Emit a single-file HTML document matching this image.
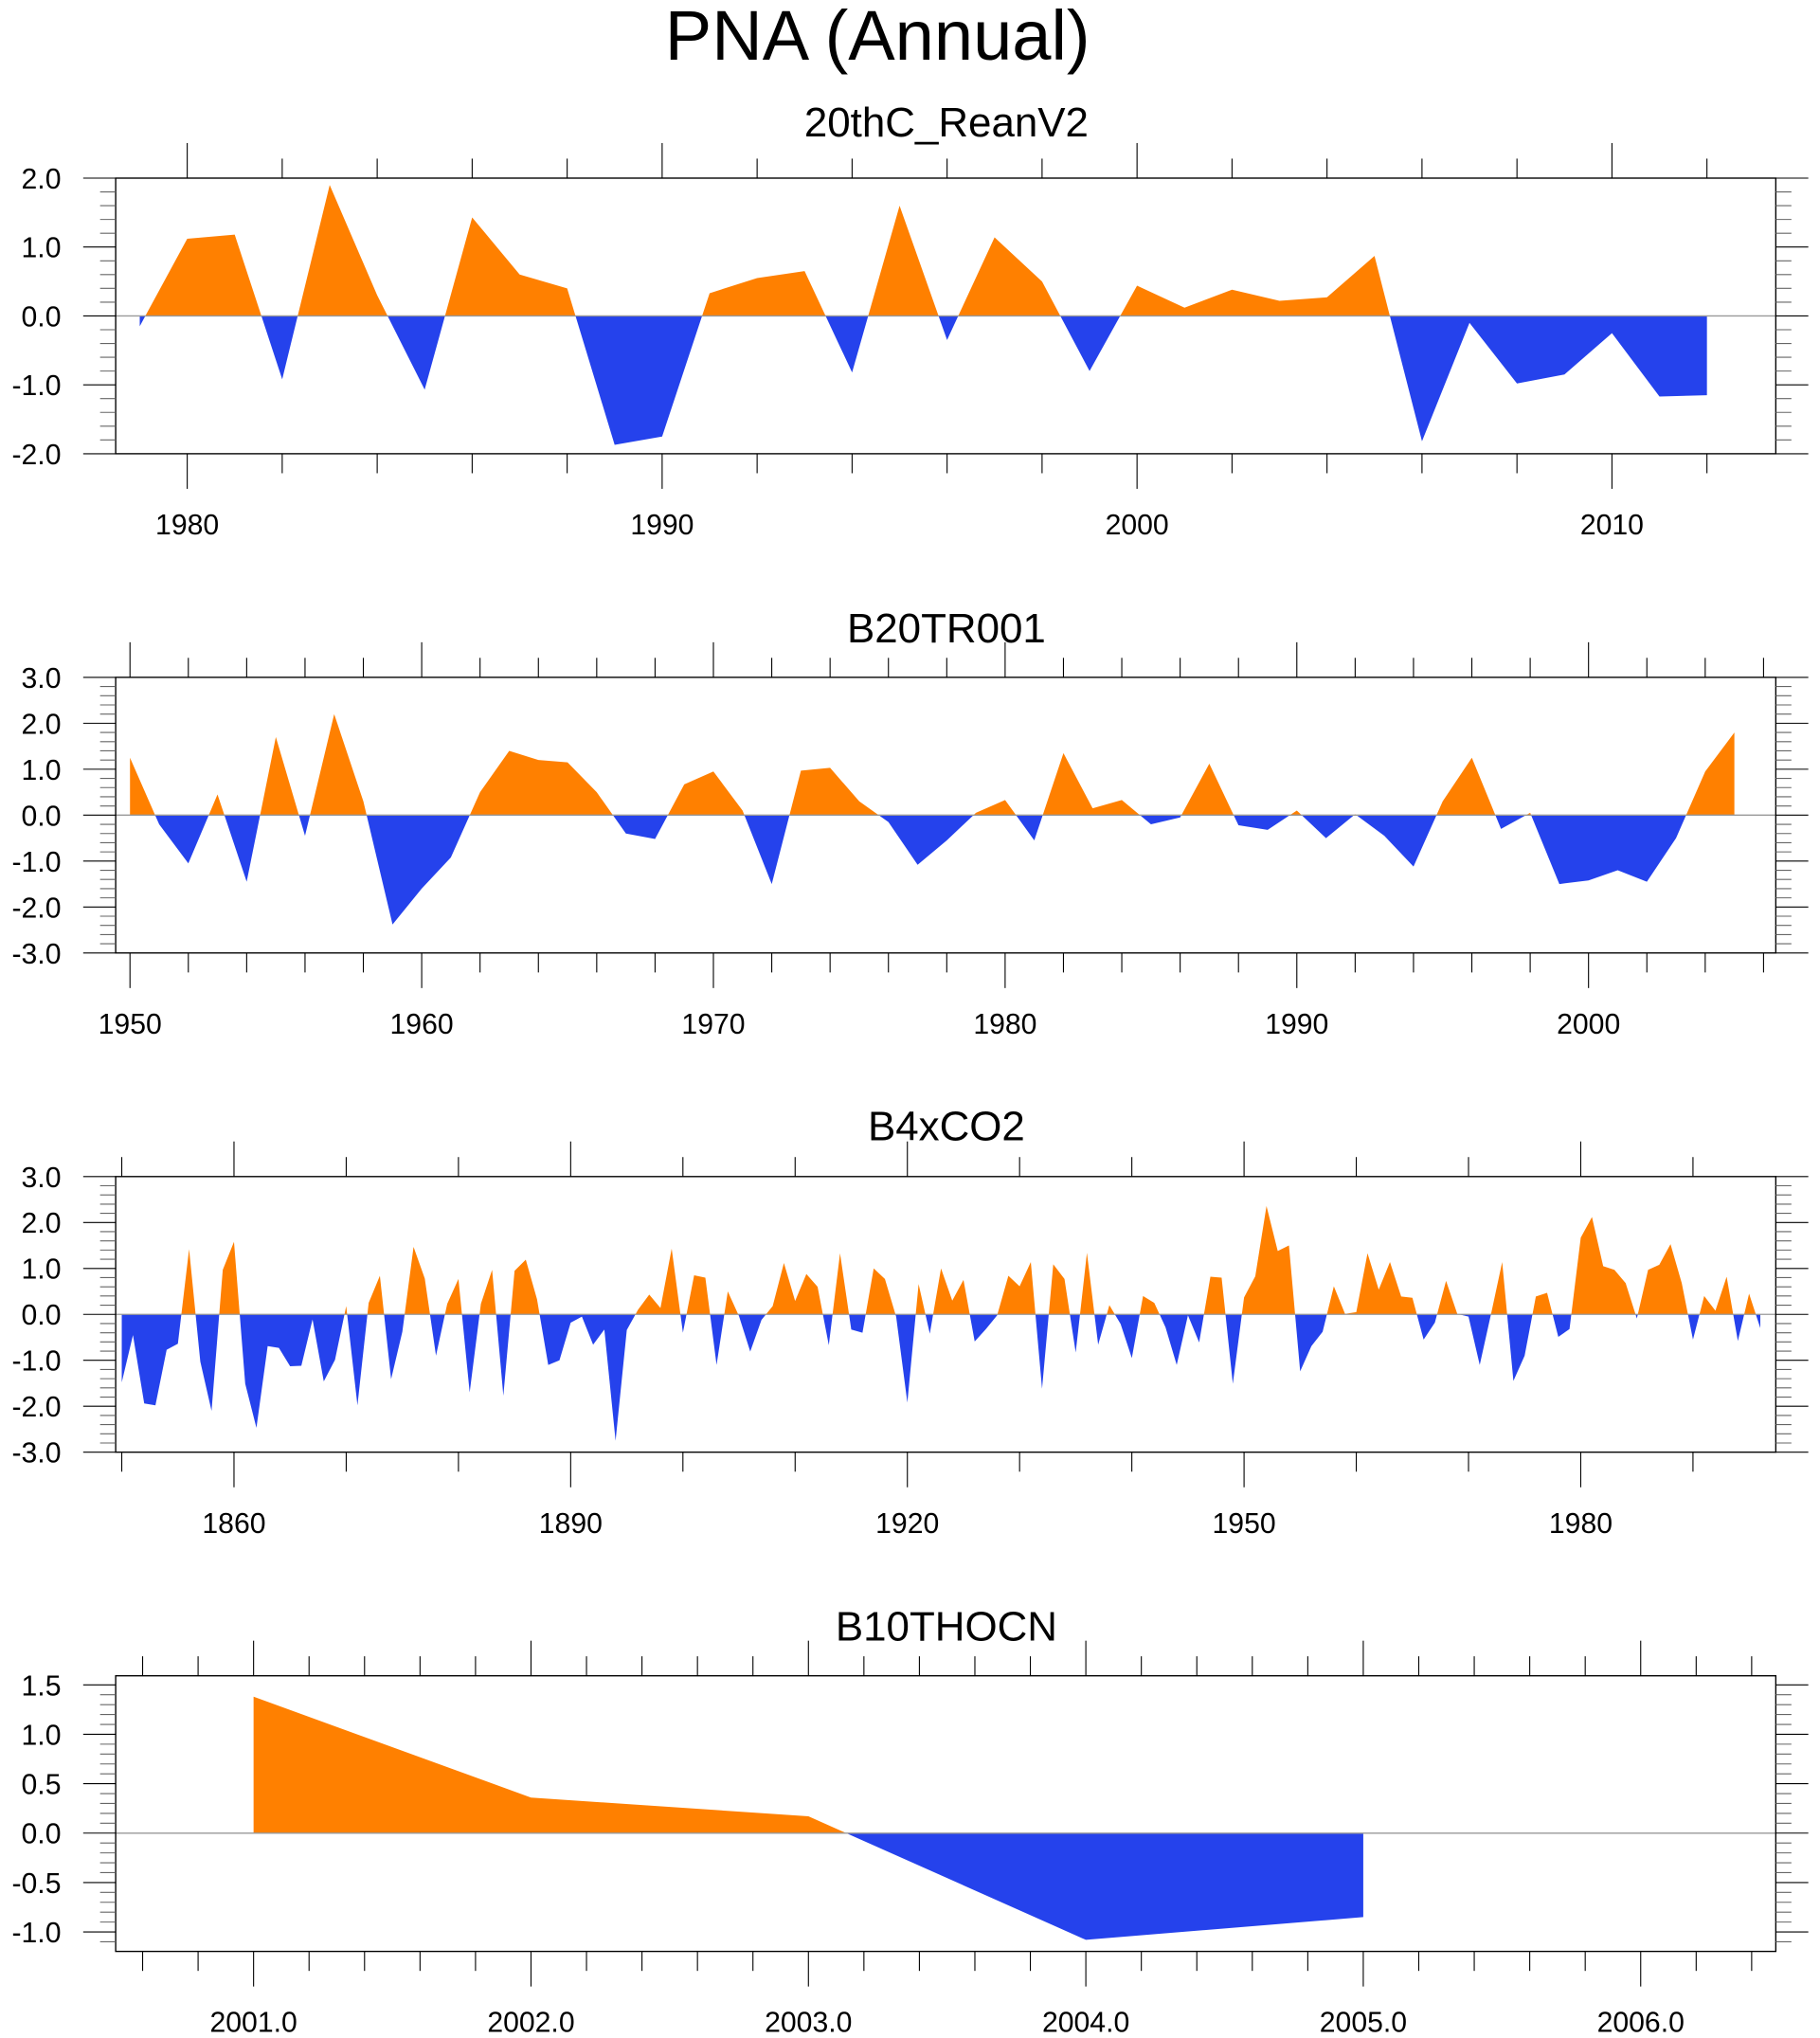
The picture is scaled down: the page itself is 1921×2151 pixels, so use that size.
<!DOCTYPE html>
<html><head><meta charset="utf-8"><style>
html,body{margin:0;padding:0;background:#fff;}
svg{display:block;font-family:"Liberation Sans",Arial,sans-serif;}
</style></head><body>
<svg id="chart" width="1921" height="2151" viewBox="0 0 1400 1567.6" xmlns="http://www.w3.org/2000/svg">
<text x="675" y="46" font-size="54" text-anchor="middle">PNA (Annual)</text>
</svg>
<script>
// ---- data ----
const years1 = [1979,1980,1981,1982,1983,1984,1985,1986,1987,1988,1989,1990,1991,1992,1993,1994,1995,1996,1997,1998,1999,2000,2001,2002,2003,2004,2005,2006,2007,2008,2009,2010,2011,2012];
const values1 = [-0.15,1.12,1.18,-0.92,1.9,0.3,-1.07,1.43,0.6,0.4,-1.87,-1.75,0.33,0.55,0.65,-0.82,1.6,-0.35,1.14,0.5,-0.8,0.44,0.12,0.38,0.22,0.27,0.87,-1.82,-0.1,-0.98,-0.85,-0.25,-1.17,-1.15];
const startYear2 = 1950;
const values2 = [1.25,-0.2,-1.05,0.45,-1.45,1.7,-0.45,2.2,0.3,-2.38,-1.6,-0.92,0.5,1.4,1.2,1.15,0.5,-0.4,-0.52,0.67,0.95,0.1,-1.5,0.97,1.03,0.3,-0.15,-1.08,-0.55,0.05,0.33,-0.55,1.35,0.15,0.33,-0.2,-0.05,1.12,-0.22,-0.32,0.1,-0.5,0.02,-0.45,-1.12,0.3,1.25,-0.3,0.05,-1.5,-1.42,-1.2,-1.45,-0.5,0.95,1.8];
const startYear3 = 1850;
const values3 = [-1.48,-0.45,-1.94,-1.98,-0.77,-0.64,1.42,-1.03,-2.1,0.97,1.58,-1.51,-2.47,-0.69,-0.73,-1.13,-1.12,-0.11,-1.46,-0.99,0.18,-1.98,0.25,0.84,-1.41,-0.38,1.47,0.78,-0.9,0.23,0.77,-1.7,0.23,0.97,-1.77,0.95,1.19,0.33,
-1.1,-1.0,-0.18,-0.05,-0.66,-0.33,-2.75,-0.34,0.1,0.43,0.14,1.43,-0.4,0.85,0.8,-1.1,0.5,-0.04,-0.81,-0.12,0.18,1.12,0.29,0.88,0.6,-0.67,1.33,-0.33,-0.4,1.0,0.77,-0.05,-1.92,0.66,-0.42,1.0,0.3,
0.75,-0.59,-0.32,-0.02,0.84,0.61,1.14,-1.62,1.09,0.77,-0.83,1.34,-0.66,0.2,-0.21,-0.95,0.4,0.25,-0.28,-1.1,-0.02,-0.61,0.82,0.8,-1.51,0.37,0.83,2.36,1.38,1.5,-1.24,-0.69,-0.38,0.61,0.01,0.05,1.33,
0.54,1.14,0.39,0.36,-0.55,-0.18,0.73,0.01,-0.05,-1.1,0.0,1.14,-1.45,-0.9,0.39,0.47,-0.49,-0.32,1.67,2.12,1.05,0.97,0.68,-0.09,0.97,1.08,1.53,0.68,-0.55,0.4,0.08,0.82,-0.58,0.45,-0.3];
const years4 = [2001,2002,2003,2004,2005];
const values4 = [1.38,0.36,0.17,-1.08,-0.85];
const titles = ["20thC_ReanV2","B20TR001","B4xCO2","B10THOCN"];

const NS="http://www.w3.org/2000/svg";
const svg=document.getElementById('chart');
function mk(tag,attrs,parent){const e=document.createElementNS(NS,tag);for(const k in attrs)e.setAttribute(k,attrs[k]);(parent||svg).appendChild(e);return e;}

const L=89,R=1366,H=212;
const panels=[
 {top:137,xmin:1978.494,xmax:2013.45,ymin:-2,ymax:2,xmaj:10,xmin_:2,ymaj:1,ymin_:0.2,xs:years1,ys:values1,fmt:v=>String(v),yfmt:v=>v.toFixed(1),ty:105,x0:1980},
 {top:521,xmin:1949.51,xmax:2006.42,ymin:-3,ymax:3,xmaj:10,xmin_:2,ymaj:1,ymin_:0.2,xs:values2.map((_,i)=>startYear2+i),ys:values2,fmt:v=>String(v),yfmt:v=>v.toFixed(1),ty:494,x0:1950},
 {top:905,xmin:1849.46,xmax:1997.38,ymin:-3,ymax:3,xmaj:30,xmin_:10,ymaj:1,ymin_:0.2,xs:values3.map((_,i)=>startYear3+i),ys:values3,fmt:v=>String(v),yfmt:v=>v.toFixed(1),ty:877,x0:1860},
 {top:1289,xmin:2000.503,xmax:2006.487,ymin:-1.197,ymax:1.592,xmaj:1,xmin_:0.2,ymaj:0.5,ymin_:0.1,xs:years4,ys:values4,fmt:v=>v.toFixed(1),yfmt:v=>v.toFixed(1),ty:1262,x0:2001}
];

panels.forEach((p,pi)=>{
  const g=mk('g',{});
  
  
  const xs=v=>L+(v-p.xmin)/(p.xmax-p.xmin)*(R-L);
  const ys=v=>p.top+(p.ymax-v)/(p.ymax-p.ymin)*H;
  const bot=p.top+H, y0=ys(0);
  const t=mk('text',{x:728,y:p.ty,'font-size':32,'text-anchor':'middle'},g);
  t.textContent=titles[pi];
  
  
  // clip paths
  const defs=mk('defs',{},g);
  const cu=mk('clipPath',{id:'cu'+pi},defs); mk('rect',{x:L,y:p.top,width:R-L,height:y0-p.top},cu);
  const cd=mk('clipPath',{id:'cd'+pi},defs); mk('rect',{x:L,y:y0,width:R-L,height:bot-y0},cd);
  let d='M'+xs(p.xs[0])+','+y0;
  p.xs.forEach((x,i)=>{d+=' L'+xs(x).toFixed(2)+','+ys(p.ys[i]).toFixed(2);});
  d+=' L'+xs(p.xs[p.xs.length-1])+','+y0+' Z';
  const a1=mk('path',{d:d,fill:'#FF8000','clip-path':'url(#cu'+pi+')'},g);
  
  
  const a2=mk('path',{d:d,fill:'#2542EC','clip-path':'url(#cd'+pi+')'},g);
  
  
  const zl=mk('line',{x1:L,x2:R,y1:y0,y2:y0,stroke:'#999','stroke-width':1},g);
  
  
  const fr=mk('rect',{x:L,y:p.top,width:R-L,height:H,fill:'none',stroke:'#000','stroke-width':1},g);
  
  
  // x ticks
  const eps=1e-6;
  const nMin=Math.ceil((p.xmin-p.x0)/p.xmin_-eps), nMax=Math.floor((p.xmax-p.x0)/p.xmin_+eps);
  for(let k=nMin;k<=nMax;k++){
    const v=p.x0+k*p.xmin_;
    const r=(v-p.x0)/p.xmaj; const major=Math.abs(r-Math.round(r))<1e-6;
    const X=xs(v), len=major?27:15;
    mk('line',{x1:X,x2:X,y1:p.top,y2:p.top-len,stroke:'#000','stroke-width':0.8},g);
    mk('line',{x1:X,x2:X,y1:bot,y2:bot+len,stroke:'#000','stroke-width':0.8},g);
    if(major){
      const tl=mk('text',{x:X,y:bot+62,'font-size':22,'text-anchor':'middle'},g);
      tl.textContent=p.fmt(Math.round(v*10)/10);
      
      
    }
  }
  // y ticks
  const mMin=Math.ceil(p.ymin/p.ymin_-eps), mMax=Math.floor(p.ymax/p.ymin_+eps);
  for(let k=mMin;k<=mMax;k++){
    const v=k*p.ymin_;
    const r=v/p.ymaj; const major=Math.abs(r-Math.round(r))<1e-6;
    const Y=ys(v), len=major?25:12;
    const col=major?'#000':'#666';
    mk('line',{x1:L,x2:L-len,y1:Y,y2:Y,stroke:col,'stroke-width':0.8},g);
    mk('line',{x1:R,x2:R+len,y1:Y,y2:Y,stroke:col,'stroke-width':0.8},g);
    if(major){
      const tl=mk('text',{x:47,y:Y+8,'font-size':22,'text-anchor':'end'},g);
      tl.textContent=p.yfmt(Math.round(v*10)/10);
      
      
    }
  }
});
</script>
</body></html>
